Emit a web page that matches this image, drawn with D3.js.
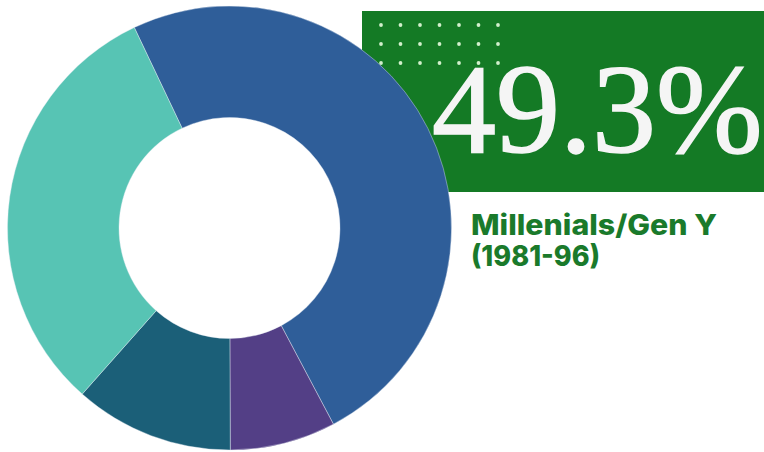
<!DOCTYPE html>
<html>
<head>
<meta charset="utf-8">
<script src="https://cdn.jsdelivr.net/npm/d3@7"></script>
<style>
  html, body { margin: 0; padding: 0; background: #ffffff; }
  svg { display: block; }
</style>
</head>
<body>
<svg id="chart" width="764" height="452"></svg>
<script>
// Generation shares (%), clockwise from the top-left seam
const generations = ["Millenials/Gen Y", "Gen Z", "Baby Boomers", "Gen X"];
const shares = [49.3, 7.7, 11.6, 31.4];
const colors = ["#2f5e99", "#533f86", "#1b5f78", "#57c4b4"];

const headline = "49.3%";
const captionLines = ["Millenials/Gen Y", "(1981-96)"];
const captionWidths = [246, 129];

const svg = d3.select("#chart");
const W = 764, H = 452;

// Green highlight panel with a dot pattern in its corner
const panel = { x: 362, y: 11, w: W - 362, h: 181 };
svg.append("rect")
  .attr("x", panel.x).attr("y", panel.y)
  .attr("width", panel.w).attr("height", panel.h)
  .attr("fill", "#147a25");

const dotCols = d3.range(7), dotRows = d3.range(3);
const dx = d3.scalePoint().domain(dotCols).range([381, 498]);
const dy = d3.scalePoint().domain(dotRows).range([25, 63]);
svg.append("g").selectAll("circle")
  .data(d3.cross(dotRows, dotCols))
  .join("circle")
  .attr("cx", d => dx(d[1]))
  .attr("cy", d => dy(d[0]))
  .attr("r", 1.9)
  .attr("fill", "#d2f0cc");

// Donut
const cx = 229.5, cy = 228, rOuter = 222, rInner = 110.5;
const start = -25.4 * Math.PI / 180;
const pie = d3.pie().sort(null).value(d => d)
  .startAngle(start).endAngle(start + 2 * Math.PI);
const arc = d3.arc().innerRadius(rInner).outerRadius(rOuter);

svg.append("g")
  .attr("transform", `translate(${cx},${cy})`)
  .selectAll("path")
  .data(pie(shares))
  .join("path")
  .attr("d", arc)
  .attr("fill", (d, i) => colors[i])
  .attr("stroke", "#e8eef4")
  .attr("stroke-width", 0.4);

// Headline figure on the panel
svg.append("text")
  .attr("x", 432).attr("y", 152)
  .attr("font-family", "'Liberation Serif', 'DejaVu Serif', serif")
  .attr("font-size", 128)
  .attr("fill", "#f5f5f5")
  .attr("stroke", "#f5f5f5")
  .attr("stroke-width", 1.6)
  .text(headline);

// Caption
const cap = svg.append("text")
  .attr("font-family", "Inter, 'Noto Sans', sans-serif")
  .attr("font-weight", 800)
  .attr("font-size", 28)
  .attr("fill", "#1a7a2b");
cap.selectAll("tspan")
  .data(captionLines)
  .join("tspan")
  .attr("x", 471)
  .attr("y", (d, i) => 235 + i * 31)
  .attr("textLength", (d, i) => captionWidths[i])
  .attr("lengthAdjust", "spacingAndGlyphs")
  .text(d => d);
</script>
</body>
</html>
